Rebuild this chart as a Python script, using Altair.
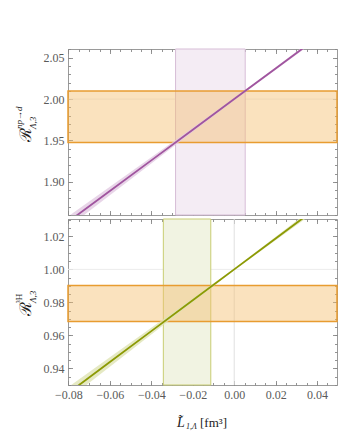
import altair as alt
import pandas as pd

FONT = "Liberation Serif"
XDOM = [-0.0802, 0.0496]

# sample points along the straight lines (fm^3)
x_pts = [-0.085, -0.06, -0.04, -0.02, 0.0, 0.02, 0.04]

# top panel: R^{np->d}
top_center = [1.8428, 1.889, 1.926, 1.963, 2.000, 2.037, 2.074]
top_half = [0.0068, 0.0052, 0.0038, 0.0025, 0.0014, 0.0015, 0.0021]
top_hband = [1.9475, 2.0097]
top_vband = [-0.0283, 0.0053]
top_ydom = [1.860, 2.0605]
top_yticks = [1.90, 1.95, 2.00, 2.05]

# bottom panel: R^{3H}
bot_center = [0.9205, 0.9439, 0.9626, 0.9813, 1.000, 1.0187, 1.0374]
bot_half = [0.0038, 0.0029, 0.0020, 0.0012, 0.0006, 0.0010, 0.0017]
bot_hband = [0.9685, 0.9903]
bot_vband = [-0.0342, -0.0113]
bot_ydom = [0.930, 1.0305]
bot_yticks = [0.94, 0.96, 0.98, 1.00, 1.02]

x_ticks = [-0.08, -0.06, -0.04, -0.02, 0.00, 0.02, 0.04]
x_minor = [round(-0.08 + 0.005 * i, 4) for i in range(27)]

W, H = 269, 166


def ax(orient, values, size, labels=False, fmt=None):
    kw = dict(orient=orient, values=values, tickSize=size, offset=-size,
              labels=labels, domain=False, grid=False, title=None,
              ticks=True, tickColor="#888888", tickWidth=0.9)
    if labels:
        kw.update(format=fmt, labelFont=FONT, labelFontSize=12,
                  labelColor="#5a5a5a", labelPadding=4,
                  labelOverlap=False, labelFlush=False)
    return alt.Axis(**kw)


def text(x, y, s, size, angle=270, style="normal", align="left"):
    return alt.Chart(pd.DataFrame({"a": [0]})).mark_text(
        font=FONT, fontSize=size, angle=angle, align=align, baseline="middle",
        fontStyle=style, color="#222"
    ).encode(x=alt.value(x), y=alt.value(y), text=alt.value(s))


def panel(center, half, hband, vband, ydom, yticks, yminor, ygrid,
          line_col, band_col, vfill, vstroke, show_xlabels, titles):
    xs = alt.Scale(domain=XDOM, nice=False, zero=False)
    ys = alt.Scale(domain=ydom, nice=False, zero=False)
    df = pd.DataFrame({
        "x": x_pts, "y": center,
        "lo": [c - h for c, h in zip(center, half)],
        "hi": [c + h for c, h in zip(center, half)],
    })
    gx = alt.Chart(pd.DataFrame({"g": [0.0]})).mark_rule(
        color="#e0e0e0", strokeWidth=1
    ).encode(x=alt.X("g:Q", scale=xs, axis=None))
    gy = alt.Chart(pd.DataFrame({"g": [ygrid]})).mark_rule(
        color="#ececec", strokeWidth=1
    ).encode(y=alt.Y("g:Q", scale=ys, axis=None))
    vb = alt.Chart(pd.DataFrame({"a": [vband[0]], "b": [vband[1]]})).mark_rect(
        fill=vfill, stroke=vstroke, strokeWidth=1
    ).encode(x=alt.X("a:Q", scale=xs, axis=None), x2="b:Q")
    hb = alt.Chart(pd.DataFrame({"a": [hband[0]], "b": [hband[1]]})).mark_rect(
        fill="#f4bf6e", fillOpacity=0.45, stroke="#e89c30", strokeWidth=1.5
    ).encode(y=alt.Y("a:Q", scale=ys, axis=None), y2="b:Q")
    area = alt.Chart(df).mark_area(color=band_col, opacity=0.8, clip=True).encode(
        x=alt.X("x:Q", scale=xs,
                axis=ax("bottom", x_ticks, 4.5, labels=show_xlabels, fmt=".2f")),
        y=alt.Y("lo:Q", scale=ys, axis=ax("left", yticks, 4.5, labels=True, fmt=".2f")),
        y2="hi:Q",
    )
    line = alt.Chart(df).mark_line(color=line_col, strokeWidth=1.8, clip=True).encode(
        x=alt.X("x:Q", scale=xs, axis=ax("top", x_ticks, 4.5)),
        y=alt.Y("y:Q", scale=ys, axis=ax("right", yticks, 4.5)),
    )
    minor1 = alt.Chart(df).mark_line(opacity=0, clip=True).encode(
        x=alt.X("x:Q", scale=xs, axis=ax("bottom", x_minor, 2.5)),
        y=alt.Y("y:Q", scale=ys, axis=ax("left", yminor, 2.5)),
    )
    minor2 = alt.Chart(df).mark_line(opacity=0, clip=True).encode(
        x=alt.X("x:Q", scale=xs, axis=ax("top", x_minor, 2.5)),
        y=alt.Y("y:Q", scale=ys, axis=ax("right", yminor, 2.5)),
    )
    layers = [gx, gy, vb, hb, area, line, minor1, minor2] + titles
    return alt.layer(*layers).resolve_scale(x="shared", y="shared").resolve_axis(
        x="independent", y="independent"
    ).properties(width=W, height=H)


top_titles = [
    text(-42, 93, "ℛ", 16),
    text(-49, 80, "np→d", 9, style="italic"),
    text(-35, 80, "Λ,3", 9, style="italic"),
]
bot_titles = [
    text(-42, 97, "ℛ", 16),
    text(-49, 84, "³H", 9),
    text(-35, 84, "Λ,3", 9, style="italic"),
    text(109, 204, "L̃", 14, angle=0, style="italic"),
    text(118, 208, "1,Λ", 8, angle=0, style="italic"),
    text(132, 204, "[fm³]", 13, angle=0),
]

top = panel(top_center, top_half, top_hband, top_vband, top_ydom, top_yticks,
            [round(1.86 + 0.01 * i, 3) for i in range(21)], 2.00,
            "#a0559f", "#e2cbe2", "#f4ecf4", "#d7bdd7", False, top_titles)
bot = panel(bot_center, bot_half, bot_hband, bot_vband, bot_ydom, bot_yticks,
            [round(0.93 + 0.005 * i, 3) for i in range(21)], 1.00,
            "#8c9a05", "#dfe3b4", "#f1f3e2", "#c8cd72", True, bot_titles)

chart = alt.vconcat(top, bot, spacing=2).properties(
    padding={"left": 6, "top": 40, "right": 5, "bottom": 5}
).configure_view(stroke="#9a9a9a", strokeWidth=1).configure_axis(labelFont=FONT)

chart.save("out.html", embed_options={"renderer": "svg", "actions": False})
